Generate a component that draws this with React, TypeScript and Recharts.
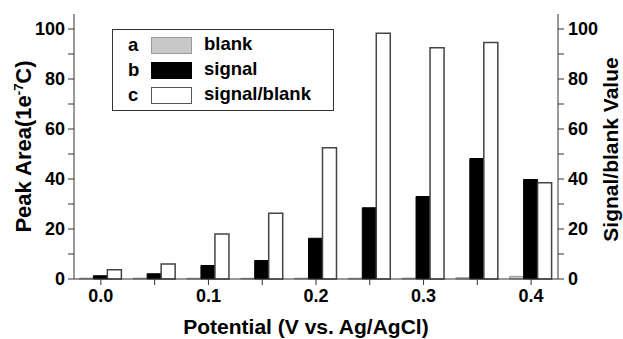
import { Bar, BarChart, Legend, XAxis, YAxis } from "recharts";

// potentials (V vs. Ag/AgCl)
const potentials = [0, 0.05, 0.1, 0.15, 0.2, 0.25, 0.3, 0.35, 0.4];
// peak area, 1e-7 C
const blankArea = [0.35, 0.35, 0.3, 0.28, 0.31, 0.29, 0.36, 0.51, 1.03];
const signalArea = [1.3, 2.1, 5.4, 7.4, 16.3, 28.5, 33.0, 48.2, 39.8];
// signal / blank
const ratioValue = [3.7, 6.0, 18.0, 26.3, 52.5, 98.3, 92.5, 94.6, 38.5];

const yTicks = [0, 10, 20, 30, 40, 50, 60, 70, 80, 90, 100];
const Y_MAX = 106;

const legendItems = [
  { key: "a", name: "blank", fill: "#c8c8c8", stroke: "#9a9a9a" },
  { key: "b", name: "signal", fill: "#000000", stroke: "#000000" },
  { key: "c", name: "signal/blank", fill: "#ffffff", stroke: "#555555" },
];

const data = potentials.map((p, i) => ({
  p,
  blank: blankArea[i],
  signal: signalArea[i],
  ratio: ratioValue[i],
}));

const FONT = "'Liberation Sans', Arial, sans-serif";
const W = 623;
const H = 339;

const tickStyle = { fill: "#000", fontSize: 18, fontWeight: 700, fontFamily: FONT };

function LegendBox() {
  return (
    <div
      style={{
        position: "relative",
        width: 222,
        height: 82,
        boxSizing: "border-box",
        border: "1.5px solid #333",
        background: "#fff",
        fontFamily: FONT,
        fontWeight: 700,
        fontSize: 18.5,
        color: "#000",
      }}
    >
      {legendItems.map((it, i) => {
        const cy = 16 + i * 25;
        return (
          <div key={it.key}>
            <span style={{ position: "absolute", left: 15, top: cy - 11, lineHeight: "20px" }}>
              {it.key}
            </span>
            <span
              style={{
                position: "absolute",
                left: 38,
                top: cy - 9,
                width: 41,
                height: 17,
                boxSizing: "border-box",
                background: it.fill,
                border: `1.5px solid ${it.stroke}`,
              }}
            />
            <span style={{ position: "absolute", left: 91, top: cy - 12, lineHeight: "20px" }}>
              {it.name}
            </span>
          </div>
        );
      })}
    </div>
  );
}

function LeftTitle(props: any) {
  const vb = props.viewBox;
  const x = vb.x + 31;
  const y = vb.y + vb.height / 2;
  return (
    <text
      transform={`translate(${x},${y}) rotate(-90)`}
      textAnchor="middle"
      fontFamily={FONT}
      fontWeight={700}
      fontSize={22}
      fill="#000"
    >
      Peak Area(1e
      <tspan dy={-8} fontSize={13}>
        -7
      </tspan>
      <tspan dy={8}>C)</tspan>
    </text>
  );
}

function RightTitle(props: any) {
  const vb = props.viewBox;
  const x = vb.x + 60;
  const y = vb.y + vb.height / 2 + 3;
  return (
    <text
      transform={`translate(${x},${y}) rotate(-90)`}
      textAnchor="middle"
      fontFamily={FONT}
      fontWeight={700}
      fontSize={21}
      fill="#000"
    >
      Signal/blank Value
    </text>
  );
}

const fmtY = (v: number) => (v % 20 === 0 ? String(v) : "");

export default function App() {
  return (
    <div style={{ width: W, height: H, background: "#fff" }}>
      <style>{"body{margin:0}"}</style>
      <BarChart
        width={W}
        height={H}
        data={data}
        margin={{ top: 14, right: 0, bottom: 0, left: 0 }}
        barGap={0}
        barCategoryGap="10%"
      >
        <XAxis
          dataKey="p"
          interval={0}
          height={60}
          tickSize={6}
          tickMargin={4}
          stroke="#333"
          tick={tickStyle}
          tickFormatter={(v: number, i: number) => (i % 2 === 0 ? v.toFixed(1) : "")}
          label={{
            value: "Potential (V vs. Ag/AgCl)",
            position: "insideBottom",
            offset: 5,
            dx: -10,
            style: { fill: "#000", fontSize: 21, fontWeight: 700, fontFamily: FONT },
          }}
        />
        <YAxis
          yAxisId="left"
          width={74}
          domain={[0, Y_MAX]}
          ticks={yTicks}
          interval={0}
          tickSize={6}
          tickMargin={3}
          stroke="#333"
          tick={tickStyle}
          tickFormatter={fmtY}
          label={<LeftTitle />}
        />
        <YAxis
          yAxisId="right"
          orientation="right"
          width={65}
          domain={[0, Y_MAX]}
          ticks={yTicks}
          interval={0}
          tickSize={6}
          tickMargin={4}
          stroke="#333"
          tick={tickStyle}
          tickFormatter={fmtY}
          label={<RightTitle />}
        />
        <Legend
          layout="vertical"
          align="center"
          verticalAlign="middle"
          wrapperStyle={{ left: 112, top: 29, width: 222, height: 82 }}
          content={() => <LegendBox />}
        />
        <Bar
          yAxisId="left"
          dataKey="blank"
          name="blank"
          fill="#c8c8c8"
          stroke="#9a9a9a"
          strokeWidth={1}
          isAnimationActive={false}
        />
        <Bar
          yAxisId="left"
          dataKey="signal"
          name="signal"
          fill="#000"
          stroke="#000"
          strokeWidth={1}
          isAnimationActive={false}
        />
        <Bar
          yAxisId="right"
          dataKey="ratio"
          name="signal/blank"
          fill="#fff"
          stroke="#444"
          strokeWidth={1.5}
          isAnimationActive={false}
        />
      </BarChart>
    </div>
  );
}
